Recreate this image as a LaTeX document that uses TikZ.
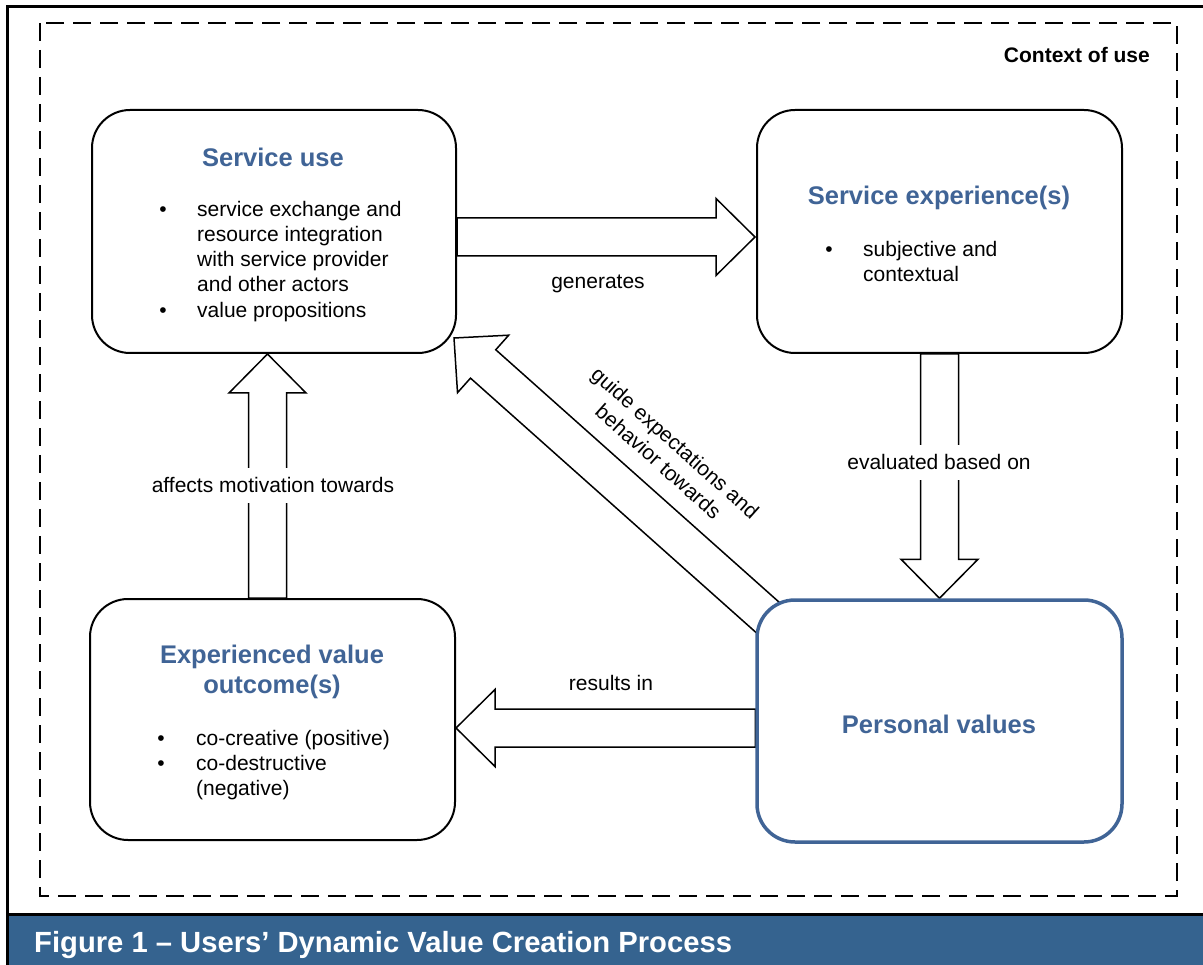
\documentclass[tikz,border=0pt]{standalone}
\usepackage{fontspec}
\setmainfont{Liberation Sans}
\usetikzlibrary{calc}
\definecolor{tblue}{RGB}{64,100,150}
\definecolor{capblue}{RGB}{53,99,143}
\pgfdeclarelayer{bg}
\pgfsetlayers{bg,main}
\newcommand\bodyfont{\fontsize{21}{25.2}\selectfont}
\newcommand\titlefont{\fontsize{25.5}{30}\selectfont\bfseries}
\newcommand\ctxfont{\fontsize{21}{25}\selectfont\bfseries}
\newcommand\capfont{\fontsize{29.2}{35}\selectfont\bfseries}
\newcommand\blockarr[2]{%
  \coordinate (bs) at #1;
  \coordinate (bt) at #2;
  \coordinate (bh) at ($(bt)!39pt!(bs)$);
  \draw[barrow] ($(bs)!19pt!90:(bt)$) -- ($(bh)!19pt!90:(bt)$) -- ($(bh)!38.5pt!90:(bt)$)
     -- (bt) -- ($(bh)!38.5pt!-90:(bt)$) -- ($(bh)!19pt!-90:(bt)$) -- ($(bs)!19pt!-90:(bt)$) -- cycle;
}
\begin{document}
\begin{tikzpicture}[x=1pt,y=-1pt,
  box/.style={draw, line width=2pt, rounded corners=38pt, fill=white, inner sep=0pt},
  barrow/.style={draw, line width=1.5pt, fill=white, line join=miter},
  body/.style={inner sep=0pt, anchor=base west, font=\bodyfont},
  bul/.style={inner sep=0pt, anchor=base, font=\bodyfont},
  ttl/.style={inner sep=0pt, anchor=base, font=\titlefont, text=tblue},
  lbl/.style={inner sep=0pt, anchor=base, font=\bodyfont},
  gaplbl/.style={lbl, fill=white, inner xsep=3pt, inner ysep=10pt}]
\useasboundingbox (0,0) rectangle (1203,965);
\clip (0,0) rectangle (1203,965);

% frame and context
\draw[line width=3pt] (7,975) -- (7,7) -- (1215,7);
\draw[line width=2.5pt, dash pattern=on 18pt off 9pt] (40,23) rectangle (1177,896);
\node[inner sep=0pt, anchor=base east, font=\ctxfont] (ctx) at (1150,63) {Context of use};

% boxes
\node[box, minimum width=364pt, minimum height=243pt] (su) at (274,231.5) {};
\node[box, minimum width=365pt, minimum height=243pt] (se) at (939.5,231.5) {};
\node[box, minimum width=365pt, minimum height=241pt] (ev) at (272.5,719.5) {};
\node[box, draw=tblue, line width=3.5pt, minimum width=365pt, minimum height=242pt] (pv) at (939.5,721) {};

% block arrows (behind boxes)
\begin{pgfonlayer}{bg}
  \blockarr{([yshift=-5.5pt]su.east)}{([yshift=-5.5pt,xshift=-1pt]se.west)}
  \blockarr{(se.south)}{(pv.north)}
  \coordinate (r1) at ([yshift=-7pt]pv.west);
  \coordinate (r2) at (ev.east |- r1);
  \blockarr{(r1)}{(r2)}
  \coordinate (m1) at ([xshift=-5pt]ev.north);
  \coordinate (m2) at (su.south -| m1);
  \blockarr{(m1)}{(m2)}
  \blockarr{([shift={(28.6pt,-33.6pt)}]pv.north west)}{([shift={(-3pt,16pt)}]su.south east)}
\end{pgfonlayer}

% Service use
\node[ttl] (sut) at (273,167) {Service use};
\node[bul] (sub1) at (163,217) {•};
\node[body] (su1) at (197,217) {service exchange and};
\node[body] (su2) at (197,242) {resource integration};
\node[body] (su3) at (197,267) {with service provider};
\node[body] (su4) at (197,292) {and other actors};
\node[bul] (sub2) at (163,318) {•};
\node[body] (su5) at (197,318) {value propositions};

% Service experience(s)
\node[ttl] (set) at (939,205) {Service experience(s)};
\node[bul] (seb1) at (829,257) {•};
\node[body] (se1) at (863,257) {subjective and};
\node[body] (se2) at (863,282) {contextual};

% Experienced value outcome(s)
\node[ttl] (evt1) at (272,663) {Experienced value};
\node[ttl] (evt2) at (272,693) {outcome(s)};
\node[bul] (evb1) at (161,745) {•};
\node[body] (ev1) at (196,745) {co-creative (positive)};
\node[bul] (evb2) at (161,770) {•};
\node[body] (ev2) at (196,770) {co-destructive};
\node[body] (ev3) at (196,795) {(negative)};

% Personal values
\node[ttl] (pvt) at (939,733) {Personal values};

% arrow labels
\node[lbl] (lgen) at (598,289) {generates};
\node[lbl] (lres) at (611,690) {results in};
\node[gaplbl] (laff) at (273,493) {affects motivation towards};
\node[gaplbl] (leva) at (939,470) {evaluated based on};
\node[inner sep=0pt, font=\bodyfont, align=center, rotate=-41.75] (lgui) at (667,452)
  {\fontsize{21}{27}\selectfont guide expectations and\\behavior towards};

% caption
\fill[capblue] (9,916) rectangle (1215,975);
\draw[line width=2.5pt] (7,914.5) -- (1215,914.5);
\node[inner sep=0pt, anchor=base west, font=\capfont, text=white] (cap) at (34,952)
  {Figure 1 – Users’ Dynamic Value Creation Process};
\end{tikzpicture}
\end{document}
